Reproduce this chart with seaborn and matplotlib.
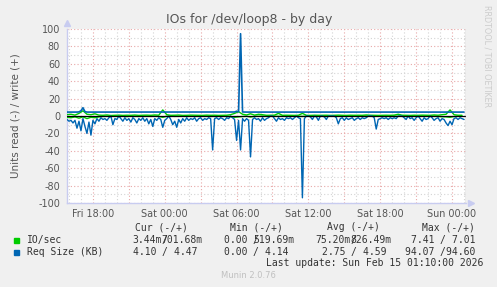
import numpy as np
import pandas as pd
import matplotlib
matplotlib.use("Agg")
import matplotlib.pyplot as plt
import seaborn as sns
from matplotlib.patches import Rectangle

# ---------------- data ----------------
start_time = "2026-02-13 15:50"
end_time = "2026-02-15 01:10"

# Req Size (KB), read side (drawn negative), 10-minute samples
read_req = [
    -4, -6, -5, -8, -5, -14, -6, -17, -3, -12,
    -20, -7, -22, -5, -9, -3, -6, -2, -4, -3,
    -5, -2, 0, -10, -3, -4, 0, -3, -6, -2,
    -5, -3, -7, -2, -4, -8, -3, -5, -2, -6,
    -3, -9, -4, -12, -3, -5, -2, -4, -13, -5,
    -3, 0, -4, -10, -6, -13, -4, -8, -3, -6,
    -2, -5, -3, -4, -2, -6, -3, -2, -5, -3,
    -4, -2, -3, -39, -3, -2, -4, -2, -3, -5,
    -2, -3, 0, -2, -4, -28, -5, -39, -3, -6,
    -3, -5, -47, -4, -2, -4, -3, -6, -2, -5,
    -3, -2, 0, 0, -3, -6, -2, -4, -3, -5,
    -2, -3, -2, -4, -2, 0, -2, -3, -94, -3,
    0, 0, -1, -4, 0, -1, -5, 0, 0, -1,
    -4, 0, 0, 0, 0, -2, -9, -3, -2, -5,
    -2, -4, -3, -2, -5, -3, -2, -4, -2, -3,
    -2, 0, 0, 0, -2, -15, -4, -3, -2, -3,
    -2, -4, -2, -3, -2, -3, 0, 0, 0, -2,
    -4, 0, -3, -2, -5, -2, 0, -3, -6, -2,
    -4, -3, 0, -2, -5, -3, -2, -6, -3, -4,
    -8, -11, -6, -10, -3, -2, -4, -2, -3, -4,
]

# Req Size (KB), write side (positive), 10-minute samples
write_req = [
    4.5, 4.5, 4.5, 4.6, 4.5, 4.5, 4.7, 6.0, 9.5, 5.0,
    4.5, 4.5, 4.5, 4.5, 4.5, 4.5, 4.5, 4.5, 4.5, 4.5,
    4.5, 4.5, 4.5, 4.5, 4.5, 4.5, 4.5, 4.5, 4.5, 4.5,
    4.5, 4.5, 4.5, 4.5, 4.5, 4.5, 4.5, 4.5, 4.5, 4.5,
    4.5, 4.5, 4.5, 4.5, 4.5, 4.5, 4.5, 4.5, 4.5, 4.5,
    4.5, 4.5, 4.5, 4.5, 4.5, 4.5, 4.5, 4.5, 4.5, 4.5,
    4.5, 4.5, 4.5, 4.5, 4.5, 4.5, 4.5, 4.5, 4.5, 4.5,
    4.5, 4.5, 4.5, 4.5, 4.5, 4.5, 4.5, 4.5, 4.5, 4.5,
    4.5, 4.5, 4.5, 4.5, 4.6, 5.5, 4.8, 94.6, 4.6, 4.5,
    4.5, 4.5, 4.5, 4.5, 4.5, 4.5, 4.5, 4.5, 4.5, 4.5,
    4.5, 4.5, 4.5, 4.5, 4.5, 4.5, 4.5, 4.5, 4.5, 4.5,
    4.5, 4.5, 4.5, 4.5, 4.5, 4.5, 4.5, 4.5, 4.5, 4.5,
    4.5, 4.5, 4.5, 4.5, 4.5, 4.5, 4.5, 4.5, 4.5, 4.5,
    4.5, 4.5, 4.5, 4.5, 4.5, 4.5, 4.5, 4.5, 4.5, 4.5,
    4.5, 4.5, 4.5, 4.5, 4.5, 4.5, 4.5, 4.5, 4.5, 4.5,
    4.5, 4.5, 4.5, 4.5, 4.5, 4.5, 4.5, 4.5, 4.5, 4.5,
    4.5, 4.5, 4.5, 4.5, 4.5, 4.5, 4.5, 4.5, 4.5, 4.5,
    4.5, 4.5, 4.5, 4.5, 4.5, 4.5, 4.5, 4.5, 4.5, 4.5,
    4.5, 4.5, 4.5, 4.5, 4.5, 4.5, 4.5, 4.5, 4.5, 4.5,
    4.5, 4.5, 4.5, 4.5, 4.5, 4.5, 4.5, 4.5, 4.5, 4.5,
]

# IO/sec, 20-minute samples
io_write = [
    1.5, 2, 1, 3, 6, 2, 1.5, 2.5, 1, 0.8,
    1.2, 0.6, 0.8, 1.0, 0.7, 0.9, 0.8, 1.1, 0.7, 0.9,
    1.0, 0.8, 1.2, 0.9, 7, 1.5, 0.8, 0.9, 1.1, 0.7,
    0.8, 1.0, 0.9, 0.8, 0.7, 1.0, 0.8, 0.9, 0.7, 0.8,
    0.9, 1.5, 3, 5, 2, 1.2, 2.5, 1.0, 2.0, 1.5,
    0.8, 0.9, 1.0, 3.0, 0.8, 0.9, 0.8, 0.7, 0.9, 3.0,
    0.8, 0.7, 0.9, 0.8, 0.8, 0.9, 0.7, 0.8, 1.0, 0.8,
    0.7, 0.9, 0.8, 0.9, 0.8, 1.2, 0.9, 0.8, 0.7, 0.8,
    0.9, 0.8, 1.0, 2.0, 0.9, 0.8, 0.7, 0.9, 0.8, 1.0,
    0.9, 0.8, 1.2, 0.9, 1.5, 2.0, 7, 1.5, 0.9, 0.8,
]
io_read = [
    -1.5, -2, -1, -2.5, -1, -3, -1.5, -2, -1, -0.5,
    -0.3, -0.5, -0.2, -0.4, -0.3, -0.6, -0.2, -0.3, -0.5, -0.2,
    -0.3, -0.4, -0.2, -0.5, -1.5, -0.3, -0.2, -0.4, -0.3, -0.2,
    -0.3, -0.2, -0.4, -0.2, -0.3, -0.2, -0.5, -0.3, -0.2, -0.3,
    -0.2, -0.8, -1.5, -1.0, -0.6, -0.3, -1.2, -0.4, -0.3, -0.2,
    -0.3, -0.2, -0.2, -0.4, -0.2, -0.3, -0.2, -0.2, -0.3, -0.5,
    -0.2, 0, -0.2, 0, -0.1, -0.3, -0.2, -0.1, -0.2, -0.3,
    -0.2, -0.1, -0.2, -0.3, -0.2, -0.1, -0.2, -0.2, -0.1, -0.2,
    -0.3, -0.2, -0.1, -0.4, -0.2, -0.1, -0.2, -0.3, -0.2, -0.1,
    -0.2, -0.3, -0.2, -0.5, -0.8, -1.0, -1.5, -0.6, -0.3, -0.2,
]

y_ticks = [-100, -80, -60, -40, -20, 0, 20, 40, 60, 80, 100]
x_tick_times = ["2026-02-13 18:00", "2026-02-14 00:00", "2026-02-14 06:00",
                "2026-02-14 12:00", "2026-02-14 18:00", "2026-02-15 00:00"]
x_tick_labels = ["Fri 18:00", "Sat 00:00", "Sat 06:00", "Sat 12:00",
                 "Sat 18:00", "Sun 00:00"]

series_names = ["IO/sec", "Req Size (KB)"]
cur_vals = [("3.44m", "701.68m"), ("4.10", "4.47")]
min_vals = [("0.00", "519.69m"), ("0.00", "4.14")]
avg_vals = [("75.20m", "826.49m"), ("2.75", "4.59")]
max_vals = [("7.41", "7.01"), ("94.07", "94.60")]
last_update = "Last update: Sun Feb 15 01:10:00 2026"

GREEN = "#00cc00"
BLUE = "#0066b3"

# ---------------- figure ----------------
sns.set_theme(style="white")
plt.rcParams["font.family"] = ["DejaVu Sans"]

W, H = 497, 287
fig = plt.figure(figsize=(W / 100, H / 100), dpi=100, facecolor="#F0F0F0")


def fx(x):
    return x / W


def fy(y):
    return 1 - y / H


ax = fig.add_axes([fx(67), fy(203), (466 - 67) / W, (203 - 29) / H])
ax.set_facecolor("white")

t0 = pd.Timestamp(start_time)
t_end = pd.Timestamp(end_time)
t_req = pd.date_range(t0, periods=len(read_req), freq="10min")
t_io = pd.date_range(t0, periods=len(io_write), freq="20min")
df_req = pd.DataFrame({"time": t_req, "read": read_req, "write": write_req})
df_io = pd.DataFrame({"time": t_io, "read": io_read, "write": io_write})

# grid
for v in range(-100, 101, 10):
    col = "#e8a8a8" if v % 20 == 0 else "#d4d4d4"
    ax.axhline(v, color=col, lw=0.8, ls=(0, (1, 2)), zorder=1)
for h in pd.date_range(t0.ceil("h"), t_end, freq="h"):
    col = "#e8a8a8" if h.hour % 3 == 0 else "#d4d4d4"
    ax.axvline(h, color=col, lw=0.8, ls=(0, (1, 2)), zorder=1)

sns.lineplot(data=df_io, x="time", y="read", color=GREEN, lw=1, ax=ax, zorder=3)
sns.lineplot(data=df_io, x="time", y="write", color=GREEN, lw=1, ax=ax, zorder=3)
sns.lineplot(data=df_req, x="time", y="read", color=BLUE, lw=1, ax=ax, zorder=4)
sns.lineplot(data=df_req, x="time", y="write", color=BLUE, lw=1.2, ax=ax, zorder=4)
ax.axhline(0, color="black", lw=0.9, zorder=5)
ax.axvline(t_end, color="#999999", lw=1, zorder=5)

ax.set_xlim(t0, t_end)
ax.set_ylim(-100, 100)
ax.set_yticks(y_ticks)
ax.set_yticklabels([str(v) for v in y_ticks])
ax.set_xticks(pd.to_datetime(x_tick_times))
ax.set_xticklabels(x_tick_labels)
ax.set_xlabel("")
ax.set_ylabel("Units read (-) / write (+)", fontsize=7.5, color="#555555", labelpad=13)
ax.tick_params(axis="both", length=0, labelsize=6.9, colors="#555555")
ax.tick_params(axis="x", pad=4)
ax.tick_params(axis="y", pad=5)
ax.grid(False)
for s in ["top", "right"]:
    ax.spines[s].set_visible(False)
for s in ["left", "bottom"]:
    ax.spines[s].set_color("#c8ccf0")
    ax.spines[s].set_linewidth(1)
ax.plot([0], [1.035], marker="^", ms=4, color="#c8ccf0", transform=ax.transAxes, clip_on=False)
ax.plot([1.013], [0], marker=">", ms=4, color="#c8ccf0", transform=ax.transAxes, clip_on=False)

fig.text(fx(249), fy(19), "IOs for /dev/loop8 - by day", ha="center", va="center",
         fontsize=9, color="#555555")
fig.text(fx(487), fy(5), "RRDTOOL / TOBI OETIKER", ha="center", va="top",
         rotation=270, fontsize=5.8, color="#cccccc")

# legend table
mono = dict(family="DejaVu Sans Mono", fontsize=7, color="#333333", va="center")
cw = 5.85
headers = [("Cur (-/+)", 135), ("Min (-/+)", 230), ("Avg (-/+)", 327), ("Max (-/+)", 422)]
for txt, x in headers:
    fig.text(fx(x), fy(227), txt, ha="left", **mono)
slash_x = [162, 253, 351, 440]
cols = [cur_vals, min_vals, avg_vals, max_vals]
rows_y = [240, 252]
colors = [GREEN, BLUE]
for r, (name, yy) in enumerate(zip(series_names, rows_y)):
    fig.patches.append(Rectangle((fx(14), fy(yy + 2.5)), 5 / W, 5 / H,
                                 transform=fig.transFigure, color=colors[r]))
    fig.text(fx(27), fy(yy), name, ha="left", **mono)
    for col, sx in zip(cols, slash_x):
        rv, wv = col[r]
        rtxt = rv if rv.endswith("m") else rv + " "
        wtxt = wv if wv.endswith("m") else wv + " "
        fig.text(fx(sx), fy(yy), rtxt, ha="right", **mono)
        fig.text(fx(sx), fy(yy), "/", ha="left", **mono)
        fig.text(fx(sx + 7 * cw), fy(yy), wtxt, ha="right", **mono)

fig.text(fx(483), fy(263), last_update, ha="right", **mono)
fig.text(fx(248), fy(276), "Munin 2.0.76", ha="center", va="center",
         fontsize=6, color="#c0c0c0")

fig.savefig("out.png", dpi=100, facecolor=fig.get_facecolor())
